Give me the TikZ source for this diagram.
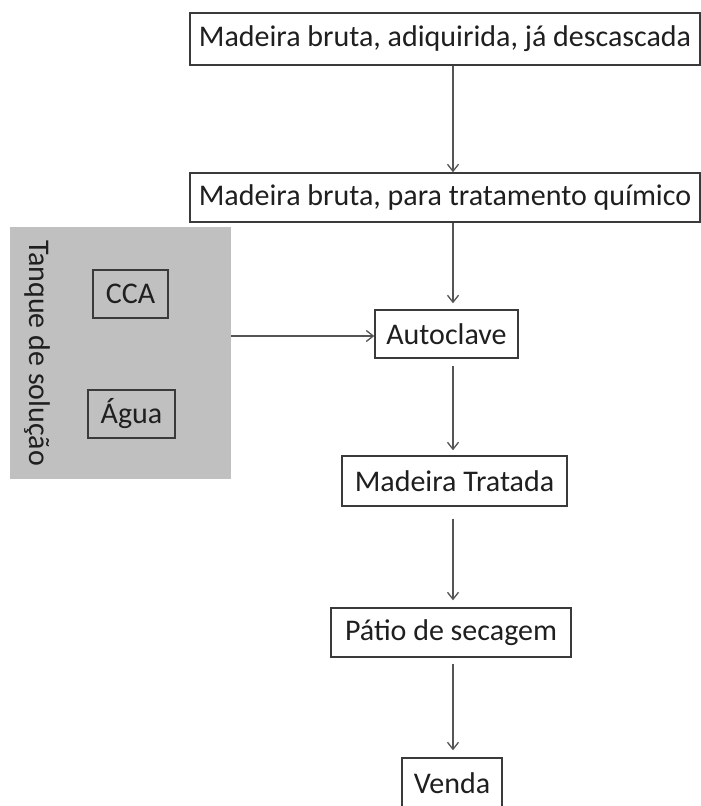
\documentclass[tikz,border=0pt]{standalone}
\usepackage{fontspec}
\setmainfont{Carlito}
\usetikzlibrary{positioning, arrows.meta}

\definecolor{boxline}{HTML}{3A3A3A}
\definecolor{flowline}{HTML}{555555}
\definecolor{tankgray}{HTML}{C0C0C0}

\tikzset{
  stepbox/.style={draw=boxline, line width=1.4pt, fill=white, inner sep=0pt,
    font=\fontsize{30}{34}\selectfont, text=black!88},
  flow/.style={draw=flowline, line width=1.3pt, -{Straight Barb[length=7pt, width=11pt]}}
}

\begin{document}
\begin{tikzpicture}[x=1pt, y=-1pt]

\useasboundingbox (0,0) rectangle (701,806);

% Draw tank
\node[fill=tankgray, minimum width=221pt, minimum height=252pt, inner sep=0pt] (tank) at (120.5,353) {};
\node[rotate=-90, font=\fontsize{30}{34}\selectfont, text=black!88] (tanklabel) at (37,353) {Tanque de solução};
\node[stepbox, fill=none, minimum width=75pt, minimum height=48pt] (cca) at (130.5,294) {CCA};
\node[stepbox, fill=none, minimum width=87pt, minimum height=48pt] (agua) at (131.5,414) {Água};

% Draw process steps
\node[stepbox, minimum width=510pt, minimum height=52pt] (bruta) at (445,39) {Madeira bruta, adiquirida, já descascada};
\node[stepbox, minimum width=510pt, minimum height=49pt] (quimico) at (445,197.5) {Madeira bruta, para tratamento químico};
\node[stepbox, minimum width=143pt, minimum height=48pt] (autoclave) at (446.5,334) {Autoclave};
\node[stepbox, minimum width=225pt, minimum height=50pt] (tratada) at (454.5,481) {Madeira Tratada};
\node[stepbox, minimum width=240pt, minimum height=49pt] (patio) at (451,632.5) {Pátio de secagem};
\node[stepbox, minimum width=100pt, minimum height=50pt] (venda) at (452,783) {Venda};

\coordinate (spine) at (453,0);

% Draw arrows
\draw[flow] (bruta.south -| spine) -- (quimico.north -| spine);
\draw[flow, shorten >=6pt] (quimico.south -| spine) -- (autoclave.north -| spine);
\draw[flow, shorten <=7pt, shorten >=5pt] (autoclave.south -| spine) -- (tratada.north -| spine);
\draw[flow, shorten <=12pt, shorten >=7pt] (tratada.south -| spine) -- (patio.north -| spine);
\draw[flow, shorten <=6pt, shorten >=7pt] (patio.south -| spine) -- (venda.north -| spine);
\draw[flow] ([yshift=-2pt]autoclave.west -| tank.east) -- ([yshift=-2pt]autoclave.west);

\end{tikzpicture}
\end{document}
